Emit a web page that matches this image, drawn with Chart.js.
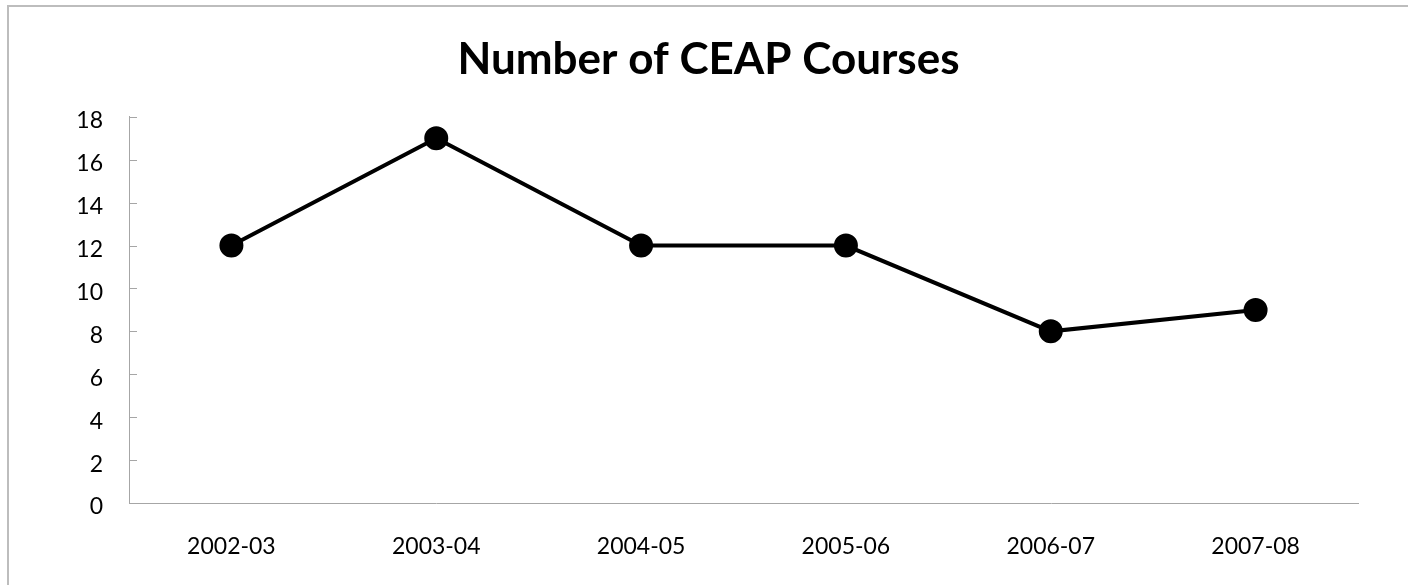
<!DOCTYPE html>
<html>
<head>
<meta charset="utf-8">
<script src="https://cdn.jsdelivr.net/npm/chart.js@4.4.1/dist/chart.umd.min.js"></script>
<style>
    html, body { margin: 0; padding: 0; background: #fff; }
    #frame {
        position: absolute;
        left: 7px;
        top: 5px;
        width: 1399px;
        height: 578px;
        border-left: 2px solid #bdbdbd;
        border-top: 2px solid #bdbdbd;
    }
    #chart { display: block; }
</style>
</head>
<body>
<div id="frame"><canvas id="chart" width="1399" height="578"></canvas></div>
<script>
const chartTitle = 'Number of CEAP Courses';
const years = ['2002-03', '2003-04', '2004-05', '2005-06', '2006-07', '2007-08'];
const courses = [12, 17, 12, 12, 8, 9];
const yTicks = [0, 2, 4, 6, 8, 10, 12, 14, 16, 18];

const fontName = 'Lato, "Open Sans", sans-serif';
const axisGray = '#a6a6a6';

// excel style: short tick marks pointing into the plot
const innerTicks = {
    id: 'innerTicks',
    afterDraw(chart) {
        const y = chart.scales.y;
        const ctx = chart.ctx;
        ctx.save();
        ctx.strokeStyle = axisGray;
        ctx.lineWidth = 1;
        yTicks.forEach(v => {
            const py = Math.round(y.getPixelForValue(v)) + 0.5;
            ctx.beginPath();
            ctx.moveTo(y.right, py);
            ctx.lineTo(y.right + 8, py);
            ctx.stroke();
        });
        ctx.restore();
    }
};

const ctx = document.getElementById('chart').getContext('2d');
new Chart(ctx, {
    type: 'line',
    data: {
        labels: years,
        datasets: [{
            label: chartTitle,
            data: courses,
            borderColor: '#000',
            backgroundColor: '#000',
            borderWidth: 4,
            pointRadius: 10,
            pointBackgroundColor: '#000',
            pointBorderColor: '#000',
            tension: 0
        }]
    },
    options: {
        responsive: false,
        animation: false,
        layout: { padding: 0 },
        plugins: {
            legend: { display: false },
            tooltip: { enabled: false },
            title: {
                display: true,
                text: chartTitle,
                color: '#000',
                font: { family: fontName, size: 44, weight: 'bold' },
                padding: { top: 26, bottom: 31 }
            }
        },
        scales: {
            x: {
                offset: true,
                grid: { display: false, drawTicks: false },
                border: { display: true, color: axisGray, width: 1 },
                ticks: {
                    color: '#000',
                    font: { family: fontName, size: 23 },
                    padding: 30,
                    maxRotation: 0
                },
                afterFit(scale) { scale.height = 82; }
            },
            y: {
                min: 0,
                max: 18,
                grid: { display: false, drawTicks: false },
                border: { display: true, color: axisGray, width: 1 },
                ticks: {
                    stepSize: 2,
                    color: '#000',
                    font: { family: fontName, size: 23 },
                    padding: 26,
                    labelOffset: 4
                },
                afterFit(scale) { scale.width = 120; }
            },
            y2: {
                position: 'right',
                display: true,
                grid: { display: false, drawTicks: false },
                border: { display: false },
                ticks: { display: false },
                afterFit(scale) { scale.width = 50; }
            }
        }
    },
    plugins: [innerTicks]
});
</script>
</body>
</html>
